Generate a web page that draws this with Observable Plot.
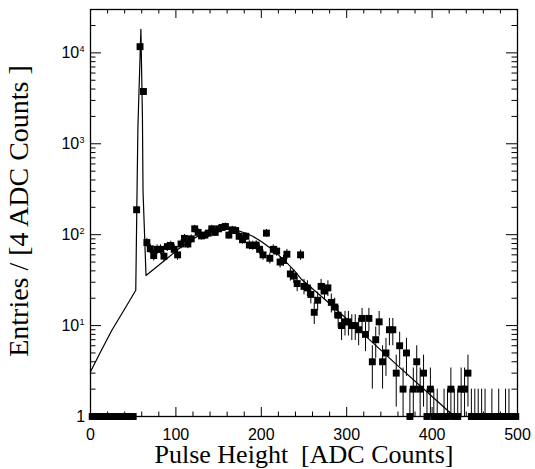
<!DOCTYPE html>
<html><head><meta charset="utf-8">
<script src="https://cdn.jsdelivr.net/npm/d3@7"></script>
<script src="https://cdn.jsdelivr.net/npm/@observablehq/plot@0.6"></script>
<style>body{margin:0;background:#fff}</style>
</head><body><div id="chart"></div>
<script>
// Histogram bin centres (4 ADC counts per bin)
const binCenters = [2,6,10,14,18,22,26,30,34,38,42,46,50,54,58,62,66,70,74,78,82,86,90,94,98,
  102,106,110,114,118,122,126,130,134,138,142,146,150,154,158,162,166,170,174,178,182,186,190,194,198,
  202,206,210,214,218,222,226,230,234,238,242,246,250,254,258,262,266,270,274,278,282,286,290,294,298,
  302,306,310,314,318,322,326,330,334,338,342,346,350,354,358,362,366,370,374,378,382,386,390,394,398,
  402,406,410,414,418,422,426,430,434,438,442,446,450,454,458,462,466,470,474,478,482,486,490,494,498];
// Entries per bin
const counts = [0,0,0,0,0,0,0,0,0,0,0,0,0,188,11700,3760,82,70,59,69,69,58,74,76,69,
  60,79,91,79,90,116,106,97,99,104,116,106,116,120,123,99,113,111,96,88,96,77,76,77,69,
  60,104,55,69,66,50,52,61,37,35,29,60,27,26,22,14,19,27,24,26,18,16,13,10,11,
  11,10,10,9,12,8,12,4,7,11,4,5,9,9,3,6,2,5,1,2,4,2,3,1,2,
  1,1,0,1,1,2,1,1,2,2,3,1,1,1,1,1,0,1,0,1,0,1,1,0,0];
// Fit curve
const fitX = [0,12,25,40,53,54.5,55.5,59,60.8,61.5,65,90,100,110,120,130,140,150,160,170,180,190,200,210,220,230,240,246,280,320,360,400,426];
const fitY = [3.1,5.2,8.9,15.2,24.5,300,1500,18200,2000,300,35.5,55,66,78,90,101,110,115,116,113,105,96,84,72,60,49,39,33,17.5,8,3.6,1.66,1];
// Axis ticks
const xMajorTicks = [0,100,200,300,400,500];
const xMinorTicks = [20,40,60,80,120,140,160,180,220,240,260,280,320,340,360,380,420,440,460,480];
const yMajorTicks = [1,10,100,1000,10000];
const yExponents = ["","1","2","3","4"];
const yMinorTicks = [2,3,4,5,6,7,8,9,20,30,40,50,60,70,80,90,200,300,400,500,600,700,800,900,2000,3000,4000,5000,6000,7000,8000,9000,20000];
const xTitle = "Pulse Height\u00a0 [ADC Counts]";
const yTitle = "Entries / [4 ADC Counts ]";

const W = 535, H = 469, mL = 90, mR = 18, mT = 9, mB = 53;
const fw = W - mL - mR, fh = H - mT - mB;

const pts = binCenters.map((x, i) => ({x, n: counts[i], y: Math.max(counts[i], 1)}));
const errs = pts.filter(d => d.n > 0).map(d => ({x: d.x, lo: Math.max(d.n - Math.sqrt(d.n), 1), hi: d.n + Math.sqrt(d.n)}));
const fit = fitX.map((x, i) => ({x, y: fitY[i]}));
const decades = yMajorTicks.slice(1).map((v, i) => ({v, e: yExponents[i + 1]}));

const sans = "Liberation Sans, Arial, Helvetica, sans-serif";
const serif = "Liberation Serif, Times New Roman, serif";

const chart = Plot.plot({
  width: W, height: H, marginLeft: mL, marginRight: mR, marginTop: mT, marginBottom: mB,
  style: {background: "white", color: "black"},
  x: {type: "linear", domain: [0, 500], axis: null},
  y: {type: "log", domain: [1, 30000], axis: null},
  marks: [
    Plot.ruleX(xMajorTicks, {x: d => d, insetTop: fh - 9, stroke: "black"}),
    Plot.ruleX(xMajorTicks, {x: d => d, insetBottom: fh - 9, stroke: "black"}),
    Plot.ruleX(xMinorTicks, {x: d => d, insetTop: fh - 4.5, stroke: "black"}),
    Plot.ruleX(xMinorTicks, {x: d => d, insetBottom: fh - 4.5, stroke: "black"}),
    Plot.ruleY(yMajorTicks, {y: d => d, insetRight: fw - 11, stroke: "black"}),
    Plot.ruleY(yMajorTicks, {y: d => d, insetLeft: fw - 11, stroke: "black"}),
    Plot.ruleY(yMinorTicks, {y: d => d, insetRight: fw - 5.5, stroke: "black"}),
    Plot.ruleY(yMinorTicks, {y: d => d, insetLeft: fw - 5.5, stroke: "black"}),
    Plot.ruleX(errs, {x: "x", y1: "lo", y2: "hi", stroke: "black", strokeWidth: 1}),
    Plot.line(fit, {x: "x", y: "y", stroke: "black", strokeWidth: 1.2}),
    Plot.dot(pts, {x: "x", y: "y", symbol: "square", r: 3.9, fill: "black"}),
    Plot.frame({stroke: "black", strokeWidth: 1.3}),
    Plot.text(xMajorTicks, {x: d => d, frameAnchor: "bottom", dy: 18.5, text: d => String(d), fontSize: 16, fontFamily: sans, lineAnchor: "middle", textAnchor: "middle", fill: "black"}),
    Plot.text([1], {y: d => d, frameAnchor: "left", dx: -5.3, text: d => "1", textAnchor: "end", fontSize: 16, fontFamily: sans, lineAnchor: "middle", fill: "black"}),
    Plot.text(decades, {y: "v", frameAnchor: "left", dx: -11.3, text: d => "10", textAnchor: "end", fontSize: 16, fontFamily: sans, lineAnchor: "middle", fill: "black"}),
    Plot.text(decades, {y: "v", frameAnchor: "left", dx: -11, dy: -3.4, text: "e", textAnchor: "start", fontSize: 9, fontFamily: sans, lineAnchor: "middle", fill: "black"}),
    Plot.text([xTitle], {frameAnchor: "bottom", dy: 38, text: d => d, fontSize: 26, fontFamily: serif, lineAnchor: "middle", textAnchor: "middle", fill: "black"}),
    Plot.text([yTitle], {frameAnchor: "left", dx: -71, dy: -2, rotate: -90, text: d => d, fontSize: 28, fontFamily: serif, lineAnchor: "middle", textAnchor: "middle", fill: "black"})
  ]
});
document.getElementById("chart").appendChild(chart);
</script>
</body></html>
